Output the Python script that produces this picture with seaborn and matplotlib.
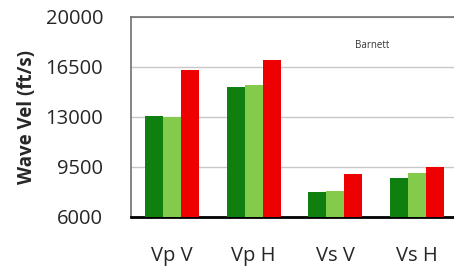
import pandas as pd
import seaborn as sns
import matplotlib
matplotlib.use('Agg')
import matplotlib.pyplot as plt

categories = ['Vp V', 'Vp H', 'Vs V', 'Vs H']
series_names = ['A', 'B', 'C']
series_a = [13050, 15080, 7730, 8710]
series_b = [13000, 15240, 7840, 9100]
series_c = [16300, 17000, 8990, 9520]
yticks = [6000, 9500, 13000, 16500, 20000]
colors = ['#0f800f', '#84cb4c', '#ee0000']

rows = []
for name, vals in zip(series_names, [series_a, series_b, series_c]):
    for cat, v in zip(categories, vals):
        rows.append({'cat': cat, 'series': name, 'vel': v})
df = pd.DataFrame(rows)

sns.set_style('white')
plt.rcParams['font.family'] = ['Open Sans', 'DejaVu Sans']

fig = plt.figure(figsize=(4.54, 2.70), dpi=100)
ax = fig.add_axes([131 / 454, 53 / 270, 327 / 454, 200 / 270])

sns.barplot(data=df, x='cat', y='vel', hue='series', palette=colors,
            width=0.66, gap=0, saturation=1, legend=False, ax=ax, zorder=3,
            linewidth=0)

ax.set_ylim(6000, 20000)
ax.set_xlim(-0.5, 3.5)
ax.set_yticks(yticks)
ax.set_yticklabels([str(t) for t in yticks], fontsize=14.5)
ax.tick_params(axis='y', length=0, pad=20)
ax.tick_params(axis='x', length=0, pad=21, labelsize=14.5)
ax.yaxis.grid(True, color='#c8c8c8', linewidth=1, zorder=0)
ax.set_xlabel('')
ax.set_ylabel('Wave Vel (ft/s)', fontsize=13.5, fontweight='bold', labelpad=6)

for s in ['top', 'left', 'right']:
    ax.spines[s].set_color('#707070')
    ax.spines[s].set_linewidth(1.2)
ax.spines['bottom'].set_color('black')
ax.spines['bottom'].set_linewidth(2)

ax.text(372 / 454, 1 - 45 / 270, 'Barnett', transform=fig.transFigure,
        fontsize=7, ha='center', va='center', color='#333333')

fig.savefig('out.png', dpi=100)
